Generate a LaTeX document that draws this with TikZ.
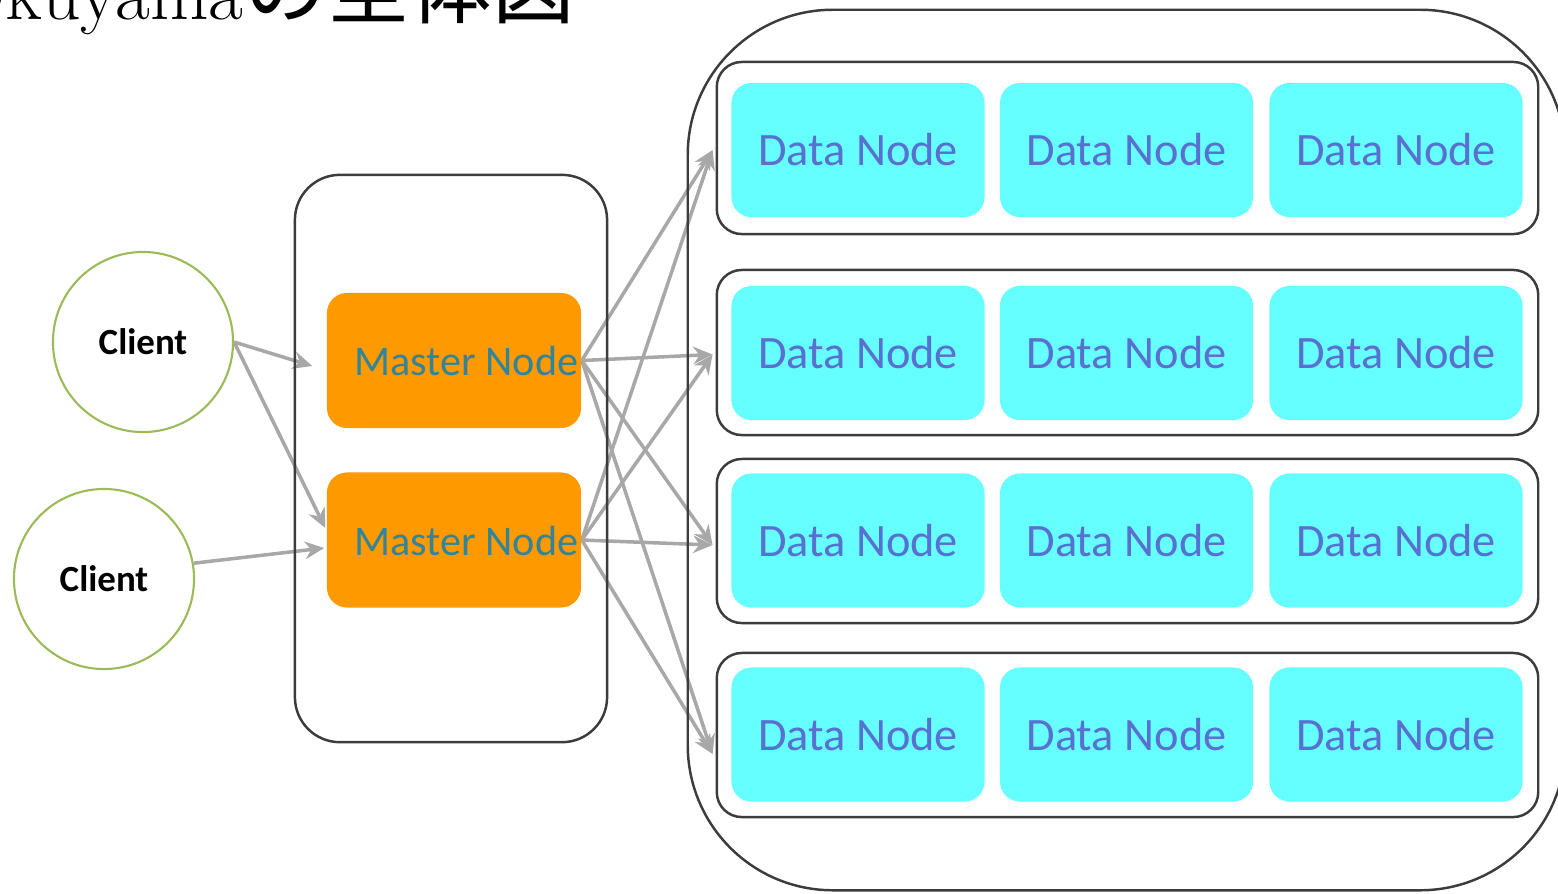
\documentclass[tikz,border=0pt]{standalone}
\usepackage{fontspec}
\setmainfont{Carlito}
\newfontfamily\cjkfont{Noto Sans CJK JP}
\newfontfamily\titlefont{Latin Modern Roman}
\usetikzlibrary{arrows.meta,calc}
\definecolor{clientgreen}{RGB}{155,187,89}
\definecolor{masterorange}{RGB}{255,153,0}
\definecolor{mastertext}{RGB}{49,133,155}
\definecolor{datacyan}{RGB}{102,255,255}
\definecolor{datatext}{RGB}{88,112,208}
\definecolor{framegray}{RGB}{60,60,60}
\definecolor{arrowgray}{RGB}{168,168,168}
\pgfdeclarelayer{behind}
\pgfsetlayers{behind,main}
\tikzset{
  client/.style={circle, draw=clientgreen, line width=0.6pt, minimum size=1.8cm, inner sep=0pt,
    font=\bfseries\fontsize{10.5}{12}\selectfont},
  master/.style={rectangle, rounded corners=0.2cm, fill=masterorange, minimum width=2.54cm, minimum height=1.35cm},
  mtext/.style={anchor=base east, inner sep=0pt, text=mastertext, font=\fontsize{12}{14}\selectfont},
  datanode/.style={rectangle, rounded corners=0.2cm, fill=datacyan, minimum width=2.53cm, minimum height=1.34cm,
    text=datatext, font=\fontsize{13.2}{15}\selectfont},
  frame/.style={rectangle, draw=framegray, line width=0.7pt},
  conn/.style={draw=arrowgray, line width=1pt, -{Stealth[length=5.5pt,width=5pt]}}
}
\begin{document}
\begin{tikzpicture}[x=0.01cm,y=-0.01cm]
\useasboundingbox (0,0) rectangle (1558,893);
% title (cut off at the top edge, as in the reference)
\node[anchor=base east, inner sep=0pt, font=\titlefont\fontsize{21.5}{24}\selectfont] (tlat) at (244,19) {Okuyama};
\node[anchor=base west, inner sep=0pt, font=\cjkfont\fontsize{23.5}{26}\selectfont] (tjp) at (244,17) {の全体図};
% containers
\node[frame, rounded corners=0.45cm, minimum width=3.12cm, minimum height=5.67cm] (mbox) at (451,458.5) {};
\node[frame, rounded corners=1.45cm, minimum width=8.77cm, minimum height=8.8cm] (dbox) at (1126.5,450) {};
\node[frame, rounded corners=0.25cm, minimum width=8.21cm, minimum height=1.72cm] (r1) at (1127.5,148) {};
\node[frame, rounded corners=0.25cm, minimum width=8.21cm, minimum height=1.65cm] (r2) at (1127.5,352.5) {};
\node[frame, rounded corners=0.25cm, minimum width=8.21cm, minimum height=1.64cm] (r3) at (1127.5,541) {};
\node[frame, rounded corners=0.25cm, minimum width=8.21cm, minimum height=1.64cm] (r4) at (1127.5,735) {};
% clients
\node[client] (c1) at (143,342) {Client};
\node[client] (c2) at (104,579) {Client};
% master nodes
\node[master] (m1) at (454,360.5) {};
\node[master] (m2) at (454,540) {};
\node[mtext] (m1t) at (579,375) {Master Node};
\node[mtext] (m2t) at (579,555) {Master Node};
% data nodes
\foreach \r/\y in {1/150,2/353,3/540.5,4/734.5}{
  \node[datanode] (d\r a) at (858,\y) {Data Node};
  \node[datanode] (d\r b) at (1126.5,\y) {Data Node};
  \node[datanode] (d\r c) at (1396,\y) {Data Node};
}
% connectors
\begin{pgfonlayer}{behind}
\draw[conn] (c1.east) -- ($(m1.west)+(-14,5.5)$);
\draw[conn] (c1.east) -- ($(m2.west)+(-1,-12)$);
\draw[conn] (c2.10) -- ($(m2.west)+(-2,8)$);
\foreach \m in {m1,m2}{
  \draw[conn] (\m.east) -- ($(r1.west)+(-3,2)$);
  \draw[conn] (\m.east) -- ($(r2.west)+(-3,2)$);
  \draw[conn] (\m.east) -- ($(r3.west)+(-3,4)$);
  \draw[conn] (\m.east) -- ($(r4.west)+(-3,19)$);
}
\end{pgfonlayer}
\end{tikzpicture}
\end{document}
